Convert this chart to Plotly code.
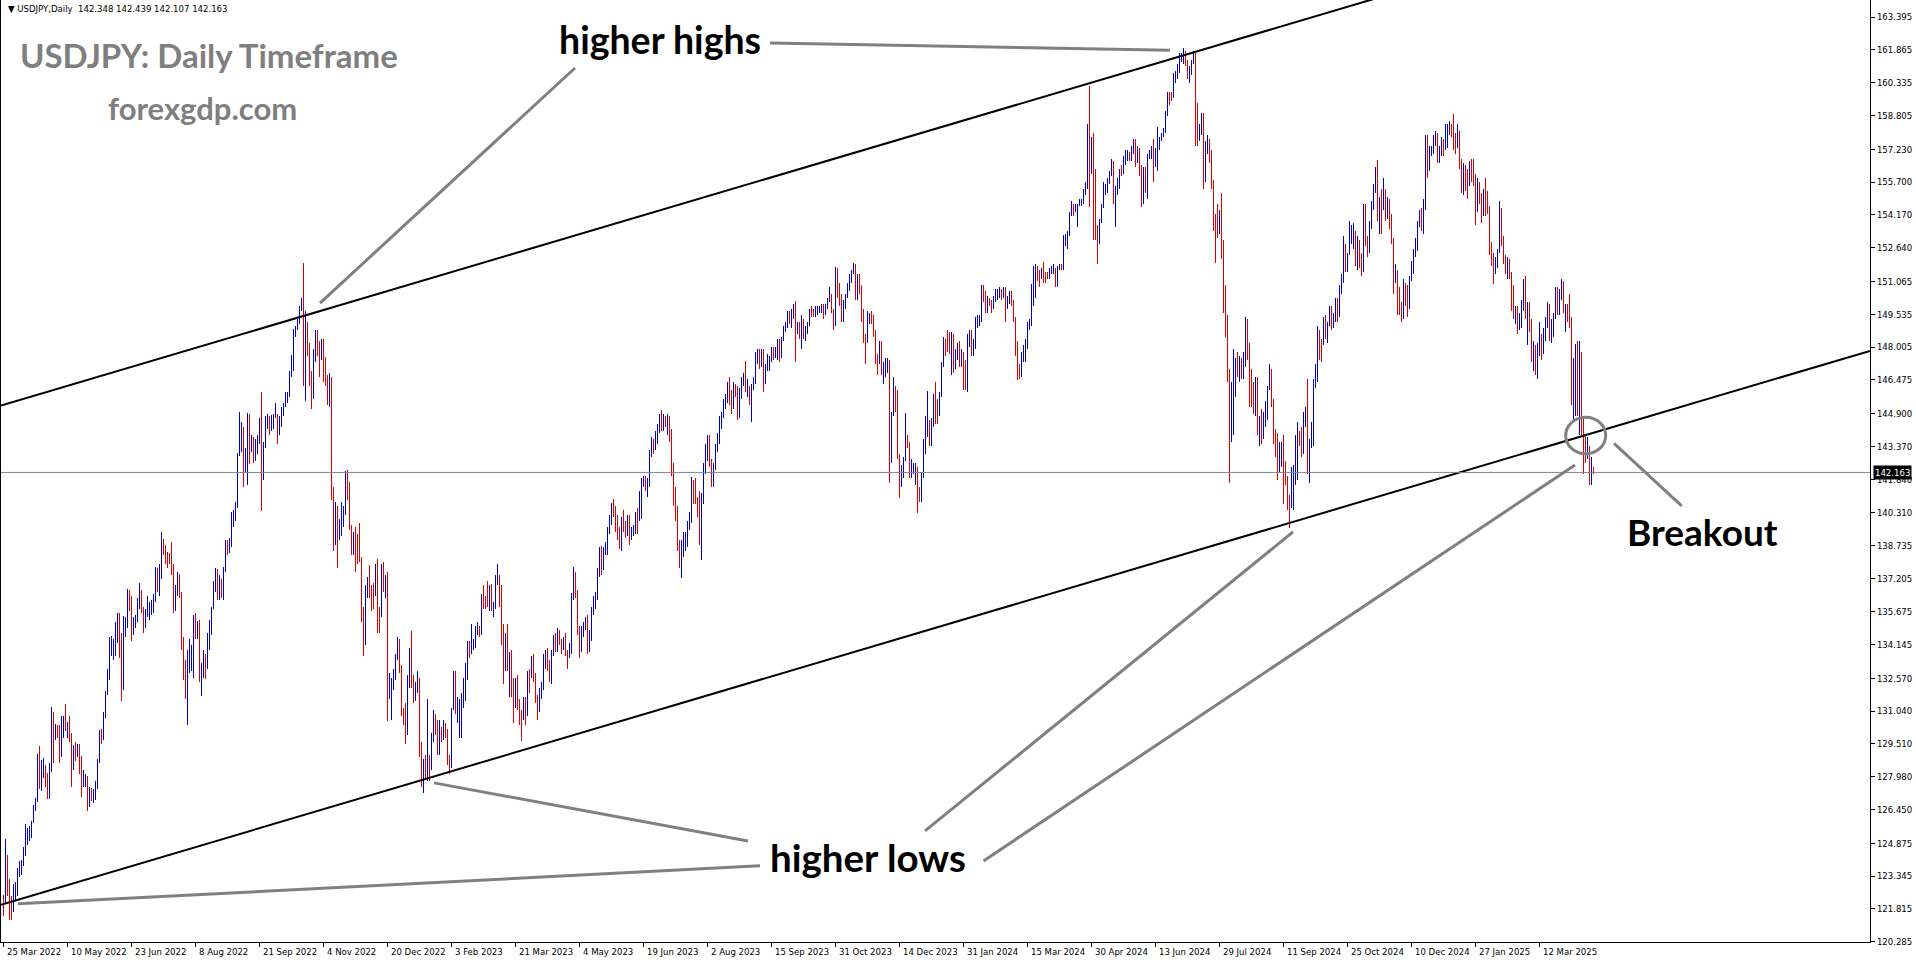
import plotly.graph_objects as go

# ---------------- USDJPY daily bars: (high, low, close); open = previous close
first_open = 122.30

m2022_03 = [(122.44,121.48,122.05),(125.09,122.12,123.85),(124.31,122.40,122.85),(123.20,121.30,121.80),(122.41,121.28,121.70)]
m2022_04 = [(122.99,121.66,122.54),(123.05,122.20,122.80),(123.70,122.40,123.60),(124.05,123.30,123.78),(124.10,123.40,123.95),
            (124.70,123.80,124.33),(125.77,124.30,125.38),(125.60,124.80,125.40),(125.70,125.00,125.56),(125.90,125.10,125.88),
            (126.68,125.80,126.42),(127.00,126.40,126.90),(129.03,126.80,128.90),(129.40,127.40,127.87),(128.75,127.30,128.40),
            (128.85,127.90,128.50),(128.50,127.50,128.10),(128.15,126.95,127.20),(128.60,126.95,128.40),(131.25,128.20,130.80),
            (131.00,128.60,129.70)]
m2022_05 = [(130.45,129.70,130.15),(130.40,129.80,130.13),(130.37,128.62,129.08),(130.80,128.90,130.22),(130.80,129.80,130.55),
            (131.35,130.10,130.27),(130.55,129.80,130.43),(130.80,129.60,129.94),(130.00,127.52,128.33),(129.45,128.30,129.20),
            (129.60,128.70,129.17),(129.50,128.90,129.40),(129.50,128.10,128.30),(128.95,127.03,127.80),(128.30,127.50,127.87),
            (128.10,127.50,127.90),(128.00,126.36,126.86),(127.50,126.55,127.32),(127.45,126.85,127.11),(127.40,126.75,127.12),
            (127.80,126.90,127.60),(128.80,127.40,128.68)]
m2022_06 = [(130.15,128.60,129.90),(130.20,129.50,129.85),(131.00,129.70,130.88),(131.95,130.70,131.88),(132.99,131.80,132.60),
            (134.48,132.50,134.25),(134.56,133.60,134.37),(134.40,133.40,134.40),(135.20,133.60,134.40),(135.59,134.20,135.45),
            (135.60,133.50,134.20),(134.70,131.50,132.20),(135.45,132.00,134.95),(135.40,134.50,135.05),(136.71,134.90,136.60),
            (136.70,135.70,136.20),(136.40,134.30,134.90),(135.40,134.60,135.20),(135.50,134.90,135.40),(136.30,135.20,136.10),
            (137.00,135.80,136.60),(136.70,135.60,135.70)]
m2022_07 = [(135.90,134.70,135.20),(135.80,134.90,135.70),(136.40,135.40,135.90),(136.10,135.30,135.90),(136.20,135.50,135.95),
            (136.50,135.60,136.10),(137.75,136.20,137.40),(137.70,136.60,137.00),(137.90,136.40,137.40),(139.38,137.20,138.90),
            (139.05,138.30,138.55),(138.80,137.90,138.20),(138.45,137.70,138.20),(138.40,137.90,138.20),(138.90,137.40,137.40),
            (137.90,135.60,136.10),(136.90,135.70,136.70),(137.50,136.40,137.00),(137.45,136.30,136.60),(136.60,133.90,134.30),
            (134.50,132.50,133.30)]
m2022_08 = [(133.40,131.60,131.60),(133.90,130.40,133.15),(134.40,132.80,133.80),(134.10,132.90,133.90),(135.50,132.60,135.00),
            (135.60,134.40,134.90),(135.25,134.40,135.10),(135.30,132.40,132.90),(133.30,131.73,133.00),(133.90,132.60,133.45),
            (133.70,132.55,133.30),(134.70,133.00,134.20),(135.30,133.90,135.00),(135.90,134.60,135.90),(137.10,135.80,137.00),
            (137.70,136.60,137.50),(137.65,136.20,136.80),(137.40,136.20,137.10),(137.20,136.30,136.60),(137.75,136.20,137.50),
            (139.00,137.70,138.80),(139.00,138.30,138.70),(139.10,138.40,138.90)]
m2022_09 = [(140.30,138.70,140.20),(140.40,139.60,140.20),(140.80,139.90,140.50),(143.08,140.50,142.95),(144.99,143.00,144.00),
            (144.50,143.10,144.10),(144.30,141.50,142.60),(143.30,142.20,142.80),(144.95,141.60,144.60),(144.90,142.55,143.20),
            (143.90,143.10,143.50),(143.80,142.60,142.90),(143.70,142.70,143.20),(143.90,143.00,143.70),(144.70,143.50,144.10),
            (145.90,140.35,142.40),(143.60,141.80,143.40),(144.80,143.30,144.70),(144.90,144.20,144.80),(144.80,143.90,144.20),
            (144.85,144.10,144.50),(144.90,144.20,144.70)]
m2022_10 = [(145.40,144.70,144.80),(144.90,143.50,144.10),(144.80,143.90,144.60),(145.20,144.30,145.10),(145.40,144.80,145.30),
            (145.90,145.20,145.70),(145.90,145.40,145.80),(146.90,145.70,146.90),(147.65,146.60,147.20),(148.85,146.90,148.70),
            (149.00,148.50,148.90),(149.30,148.80,149.20),(149.90,149.10,149.90),(150.30,149.70,150.20),(151.94,146.20,147.60),
            (149.70,145.50,149.00),(149.20,147.60,148.00),(148.20,146.20,146.40),(146.90,145.10,146.30),(147.90,145.60,147.50),
            (148.80,147.30,148.70)]
m2022_11 = [(148.80,147.60,148.20),(148.30,146.60,147.90),(148.40,147.40,148.20),(148.40,146.40,146.60),(147.55,146.20,146.60),
            (146.70,145.30,145.60),(146.80,145.20,146.40),(146.60,140.90,141.00),(141.50,138.50,138.80),(140.80,138.80,139.90),
            (140.60,137.70,139.30),(140.00,139.00,139.50),(140.80,139.20,140.20),(140.60,139.60,140.40),(142.25,140.20,142.10),
            (142.30,140.90,141.20),(141.70,139.50,139.60),(139.70,138.30,138.60),(139.40,138.30,139.20),(139.60,137.50,138.90),
            (139.30,137.90,138.70),(139.80,138.00,138.10)]
m2022_12 = [(138.20,135.20,135.30),(135.90,133.62,134.30),(136.90,134.10,136.70),(137.30,136.30,137.00),(137.85,136.30,136.60),
            (136.90,135.70,136.60),(137.00,135.80,136.60),(137.90,136.40,137.70),(138.15,134.70,135.60),(135.90,134.70,135.50),
            (137.90,135.40,137.80),(138.00,136.60,136.70),(137.40,136.30,136.90),(137.50,130.58,131.70),(132.80,131.60,132.40),
            (132.60,130.60,132.40),(133.00,132.00,132.80),(133.70,132.50,133.50),(134.50,133.40,134.40),(134.40,132.80,133.00),
            (133.20,130.80,131.10)]
m2023_01 = [(131.20,130.40,130.90),(131.40,129.52,130.00),(132.70,129.90,132.40),(134.00,132.10,133.40),(134.78,132.10,132.10),
            (132.70,131.40,131.90),(132.40,131.50,132.30),(132.90,131.90,132.40),(132.60,128.90,129.20),(129.60,127.50,127.90),
            (128.80,127.22,128.50),(129.00,127.90,128.10),(131.58,127.80,128.90),(129.00,127.80,128.40),(130.00,128.30,129.60),
            (131.10,129.60,130.70),(130.90,129.90,130.10),(130.60,129.00,129.20),(130.60,129.00,130.20),(130.30,129.60,129.90),
            (130.60,129.70,130.40),(130.50,129.80,130.10)]
m2023_02 = [(130.20,128.50,128.90),(129.00,128.08,128.70),(131.20,128.40,131.20),(132.90,131.10,132.60),(132.90,130.90,131.10),
            (131.70,130.50,131.40),(131.60,129.80,131.40),(131.90,129.80,131.40),(132.60,131.20,132.40),(133.30,131.50,133.20),
            (134.30,132.50,134.10),(134.30,133.50,133.90),(135.10,133.70,134.20),(134.40,133.90,134.20),(135.00,134.00,134.90),
            (135.20,134.60,134.90),(135.00,134.50,134.70),(136.50,134.60,136.40),(136.90,135.80,136.20),(136.40,135.80,136.20)]
m2023_03 = [(137.10,135.90,136.10),(136.90,135.70,136.70),(136.95,135.70,135.80),(136.10,135.40,135.90),(137.40,135.80,137.20),
            (137.91,136.90,137.30),(137.40,135.90,136.10),(136.90,134.10,134.90),(135.10,132.30,133.20),(134.70,132.90,134.20),
            (135.10,132.90,133.40),(133.80,131.70,133.70),(133.90,131.70,131.80),(132.60,130.50,131.30),(132.60,131.20,132.50),
            (132.70,131.10,131.50),(131.60,130.40,130.80),(131.10,129.64,130.70),(131.70,130.60,131.50),(131.70,130.40,130.90),
            (132.90,130.80,132.80),(133.00,131.90,132.70),(133.60,132.60,132.80)]
m2023_04 = [(133.70,132.40,132.40),(132.80,131.40,131.70),(131.80,130.60,131.30),(132.10,131.00,131.80),(132.40,131.60,132.20),
            (133.70,132.00,133.60),(133.90,133.00,133.70),(134.00,132.90,133.00),(133.40,132.40,132.60),(133.90,132.30,133.80),
            (134.60,133.60,134.50),(134.70,133.80,134.10),(134.90,133.80,134.70),(134.80,134.10,134.30),(134.40,133.70,134.10),
            (134.50,133.90,134.30),(134.70,133.60,133.70),(133.90,133.00,133.60),(134.20,133.50,133.90),(136.56,133.70,136.30)]
m2023_05 = [(137.77,136.20,137.50),(137.50,136.30,136.50),(136.70,134.70,134.60),(135.00,133.50,134.20),(135.00,133.80,134.80),
            (135.20,134.50,135.10),(135.40,134.80,135.20),(135.50,133.70,134.30),(134.80,133.80,134.50),(135.90,134.30,135.70),
            (136.40,135.50,136.10),(136.60,135.80,136.40),(137.70,136.20,137.60),(138.70,137.30,138.70),(138.75,137.40,137.90),
            (138.70,137.60,138.60),(138.90,138.30,138.60),(139.60,138.30,139.50),(140.20,139.30,140.00),(140.73,139.70,140.60),
            (140.93,140.10,140.40),(140.60,139.40,139.80),(140.20,139.00,139.30)]
m2023_06 = [(139.60,138.60,138.80),(140.10,138.50,140.00),(140.40,139.40,139.60),(139.90,139.10,139.60),(140.20,139.20,140.10),
            (140.20,138.80,139.30),(139.60,139.00,139.40),(139.70,139.20,139.60),(140.30,139.30,140.20),(140.50,139.30,140.00),
            (141.30,139.90,140.30),(141.90,140.00,141.80),(142.00,141.50,141.90),(142.00,141.30,141.40),(141.90,141.00,141.80),
            (143.20,141.50,143.10),(143.80,142.90,143.70),(143.70,143.00,143.50),(144.10,143.20,143.60),(144.40,143.50,144.30),
            (144.90,144.00,144.70),(145.07,144.10,144.30)]
m2023_07 = [(144.90,144.10,144.70),(144.80,144.30,144.50),(144.90,143.90,144.70),(144.80,143.60,144.10),(144.20,142.00,142.10),
            (142.60,140.60,141.30),(141.50,139.90,140.30),(140.60,138.50,138.50),(139.00,137.70,138.10),(139.00,137.24,138.80),
            (139.40,138.20,138.80),(139.40,138.50,139.30),(139.90,138.70,139.70),(140.30,139.50,140.10),(141.95,139.80,141.80),
            (141.70,140.70,141.50),(141.90,140.70,140.90),(141.00,140.10,140.30),(141.30,138.80,139.40),(141.20,138.07,141.20),
            (142.60,140.70,142.30)]
m2023_08 = [(143.50,142.10,143.30),(143.90,142.70,143.30),(143.90,142.40,142.60),(142.80,141.50,141.80),(142.60,141.50,142.50),
            (143.50,142.30,143.40),(144.00,143.10,143.80),(144.80,143.50,144.70),(145.00,144.20,144.90),(145.60,144.70,145.60),
            (145.80,145.10,145.60),(146.40,145.40,146.40),(146.60,145.30,145.80),(146.00,144.90,145.40),(146.40,145.10,146.20),
            (146.30,145.70,145.90),(146.20,144.60,144.80),(146.10,144.70,145.80),(146.60,145.60,146.40),(146.80,146.20,146.50),
            (147.37,145.90,145.90),(146.50,145.70,146.20),(146.20,145.30,145.50)]
m2023_09 = [(146.30,144.50,146.20),(146.60,146.00,146.50),(147.80,146.30,147.70),(147.90,147.20,147.70),(147.90,147.00,147.30),
            (147.90,147.10,147.80),(147.90,145.90,146.60),(147.20,146.30,147.10),(147.70,146.90,147.40),(147.60,146.90,147.40),
            (148.00,147.30,147.90),(148.00,147.40,147.60),(148.00,147.50,147.80),(148.40,147.40,148.30),(148.40,147.30,147.60),
            (148.50,147.50,148.40),(149.00,148.30,148.90),(149.20,148.70,149.10),(149.70,148.90,149.60),(149.70,149.10,149.30),
            (149.80,148.90,149.40)]
m2023_10 = [(150.00,149.30,149.90),(150.16,147.30,149.00),(149.20,148.60,149.10),(149.20,148.40,148.50),(149.50,147.90,149.30),
            (149.30,148.40,148.50),(149.00,148.30,148.70),(149.20,148.60,149.10),(149.80,149.00,149.80),(149.90,149.40,149.60),
            (149.80,149.40,149.50),(149.90,149.40,149.80),(149.90,149.50,149.80),(149.90,149.60,149.80),(150.00,149.60,149.90),
            (150.00,149.30,149.70),(150.00,149.50,149.90),(150.30,149.80,150.20),(150.80,150.10,150.40),(150.50,149.60,149.60),
            (149.80,148.80,149.10),(151.72,149.00,151.70)]
m2023_11 = [(151.70,150.30,150.90),(151.00,149.90,150.40),(150.50,149.20,149.40),(150.20,149.20,150.00),(150.50,149.80,150.40),
            (151.00,150.30,150.90),(151.40,150.60,151.30),(151.60,151.00,151.50),(151.91,151.40,151.70),(151.90,150.20,150.40),
            (151.40,150.20,151.40),(151.40,150.50,150.70),(150.90,149.20,149.60),(149.80,148.20,148.40),(148.60,147.20,148.40),
            (149.70,148.20,149.50),(149.60,149.10,149.60),(149.70,149.10,149.40),(149.50,148.50,148.70),(148.80,147.20,147.40),
            (147.70,146.70,147.30),(148.30,147.20,148.20)]
m2023_12 = [(148.30,146.70,146.80),(147.30,146.30,146.90),(147.50,146.60,147.20),(147.50,146.80,147.30),(147.40,141.65,144.20),
            (145.00,142.60,144.90),(146.60,144.80,146.20),(146.20,145.00,145.40),(146.00,142.80,142.90),(143.00,140.97,141.90),
            (142.50,141.50,142.20),(142.90,141.90,142.80),(144.95,142.70,143.80),(143.90,143.30,143.50),(143.60,141.90,142.10),
            (142.80,141.90,142.40),(142.60,142.10,142.40),(142.60,141.60,142.40),(142.40,140.25,141.40),(141.50,140.80,141.00)]
m2024_01 = [(142.20,140.80,142.00),(143.70,141.90,143.30),(144.80,143.00,144.60),(145.98,143.80,144.60),(144.60,143.40,144.20),
            (144.70,143.40,144.40),(145.80,144.30,145.70),(146.40,144.40,145.30),(145.60,144.40,144.90),(145.90,144.80,145.80),
            (147.30,145.70,147.20),(148.50,147.10,148.20),(148.40,147.60,148.10),(148.80,147.80,148.10),(148.70,147.70,148.10),
            (148.70,146.70,148.40),(148.60,146.80,147.40),(147.90,147.00,147.70),(148.20,147.40,148.20),(148.30,147.10,147.50),
            (147.90,147.10,147.60),(147.80,146.00,146.90)]
m2024_02 = [(147.40,146.00,146.40),(148.60,145.90,148.40),(148.80,148.00,148.70),(148.80,147.60,147.90),(148.40,147.60,148.00),
            (149.40,147.90,149.30),(149.50,148.90,149.30),(149.50,149.00,149.40),(150.90,149.20,150.70),(150.90,150.10,150.60),
            (150.60,149.60,149.90),(150.40,149.60,150.20),(150.30,149.90,150.10),(150.20,149.60,150.00),(150.40,149.80,150.30),
            (150.70,150.10,150.50),(150.70,150.20,150.50),(150.80,150.30,150.70),(150.70,150.20,150.50),(150.80,150.30,150.70),
            (150.80,149.20,150.00)]
m2024_03 = [(150.40,149.80,150.10),(150.60,150.00,150.50),(150.60,149.90,150.00),(150.20,149.20,149.40),(149.40,147.60,148.00),
            (148.30,146.48,147.10),(147.20,146.50,147.00),(147.80,146.60,147.70),(148.10,147.30,147.70),(148.40,147.30,148.30),
            (149.20,147.90,149.00),(149.30,148.80,149.10),(150.95,149.00,150.90),(151.80,149.90,151.30),(151.86,150.30,151.60),
            (151.80,151.10,151.40),(151.60,150.80,151.30),(151.70,151.20,151.50),(151.97,151.00,151.30),(151.50,151.00,151.30),
            (151.50,151.20,151.30)]
m2024_04 = [(151.70,151.20,151.60),(151.80,151.40,151.60),(151.90,151.40,151.60),(151.70,150.80,151.30),(151.80,150.80,151.60),
            (151.90,151.60,151.80),(151.90,151.60,151.70),(153.25,151.60,153.10),(153.30,152.70,153.20),(153.40,152.60,153.20),
            (154.30,153.20,154.20),(154.80,154.10,154.70),(154.70,154.10,154.40),(154.70,154.30,154.60),(154.70,153.60,154.60),
            (154.90,154.60,154.80),(154.90,154.60,154.80),(155.40,154.70,155.30),(155.70,155.10,155.60),(158.40,155.40,158.30),
            (160.20,154.55,156.60),(157.80,156.10,157.80)]
m2024_05 = [(157.99,153.00,155.00),(156.30,153.00,153.00),(153.70,151.86,153.00),(154.00,152.80,153.90),(154.70,153.80,154.60),
            (155.70,154.50,155.50),(155.60,155.10,155.50),(155.90,155.20,155.80),(156.20,155.60,156.20),(156.80,156.00,156.40),
            (156.70,154.70,154.90),(155.50,153.60,155.40),(155.90,155.10,155.60),(156.30,155.40,156.30),(156.50,156.00,156.20),
            (156.90,156.10,156.80),(157.20,156.50,157.00),(157.20,156.70,157.00),(157.10,156.70,156.90),(157.40,156.70,157.20),
            (157.70,157.00,157.60),(157.70,156.40,156.80),(157.40,156.60,157.30)]
m2024_06 = [(157.30,156.00,156.10),(156.50,154.55,154.80),(156.40,154.70,156.10),(156.40,155.20,155.60),(157.00,154.90,156.80),
            (157.20,156.80,157.00),(157.40,156.80,157.10),(157.70,155.70,156.70),(157.30,156.40,157.00),(158.26,156.20,157.40),
            (157.80,157.20,157.70),(158.00,157.60,157.90),(158.20,157.80,158.10),(159.00,158.00,158.90),(159.90,158.80,159.80),
            (159.90,159.30,159.70),(159.90,159.50,159.70),(160.80,159.60,160.80),(160.90,160.30,160.80),(161.20,160.50,160.90)]
m2024_07 = [(161.70,160.80,161.50),(161.70,161.30,161.50),(161.95,161.20,161.70),(161.80,161.10,161.30),(161.40,160.50,160.70),
            (161.10,160.30,160.80),(161.40,160.70,161.30),(161.80,161.20,161.60),(161.70,157.40,159.00),(159.40,157.40,157.90),
            (158.40,157.60,158.00),(158.90,157.90,158.40),(158.90,155.40,156.20),(157.60,155.70,157.40),(157.90,157.00,157.50),
            (157.70,156.60,156.90),(157.20,155.40,155.60),(155.80,153.40,153.90),(154.20,151.94,153.90),(154.70,153.10,153.80),
            (154.40,153.30,154.00),(155.20,152.10,152.70),(153.00,149.60,150.00)]
m2024_08 = [(150.90,148.50,149.40),(149.50,146.40,146.50),(147.00,141.68,144.20),(146.40,143.60,144.30),(147.90,143.90,146.70),
            (147.50,145.70,147.20),(147.80,146.60,146.60),(147.60,146.40,147.20),(147.50,146.50,146.90),(147.80,146.50,147.30),
            (149.40,147.10,149.30),(149.10,147.40,147.60),(148.20,145.20,146.00),(147.00,145.20,145.20),(146.40,144.90,145.20),
            (146.60,144.80,146.30),(146.60,143.90,144.40),(144.80,143.40,144.50),(145.10,143.50,143.90),(145.00,143.70,144.60),
            (145.50,144.30,145.00),(146.20,144.60,146.20)]
m2024_09 = [(147.20,146.00,146.90),(147.00,145.20,145.40),(145.60,143.50,143.70),(144.20,142.90,143.40),(144.00,141.80,142.30),
            (143.60,142.20,143.10),(143.60,142.40,143.50),(143.90,140.70,142.40),(142.70,141.60,141.80),(142.00,140.40,140.80),
            (141.10,139.58,140.60),(142.40,140.50,142.30),(142.50,140.40,142.30),(143.90,141.60,142.60),(144.50,141.80,143.90),
            (144.10,143.40,143.60),(144.30,142.90,143.20),(145.00,143.00,144.80),(145.20,144.30,144.80),(146.50,142.10,142.20),
            (143.70,141.65,143.60)]
m2024_10 = [(144.50,143.30,143.60),(146.50,143.40,146.40),(147.20,146.10,146.90),(149.00,146.40,148.70),(148.80,147.40,148.20),
            (148.40,147.30,148.20),(149.40,148.10,149.30),(149.50,148.40,148.60),(149.20,148.20,149.10),(149.90,149.00,149.80),
            (149.90,148.80,149.20),(149.60,148.90,149.30),(150.30,149.20,150.10),(150.30,149.20,149.50),(150.90,149.40,150.80),
            (151.40,150.50,151.10),(153.19,151.00,152.70),(152.80,151.50,151.80),(152.40,151.50,152.30),(153.88,152.60,153.30),
            (153.70,152.80,153.40),(153.80,152.60,153.40),(153.40,151.80,152.00)]
m2024_11 = [(153.20,151.60,153.00),(152.70,151.70,152.10),(152.40,151.30,151.60),(154.70,151.50,154.60),(154.70,152.70,152.90),
            (153.20,152.20,152.60),(153.90,152.40,153.70),(154.80,153.50,154.60),(155.60,154.40,155.50),(156.40,155.20,156.20),
            (156.75,153.90,154.30),(155.00,153.30,154.70),(155.40,153.30,154.60),(155.90,154.40,155.40),(155.40,153.90,154.50),
            (155.00,154.00,154.70),(154.90,153.50,154.20),(154.20,152.80,153.00),(153.10,150.50,151.10),(151.90,151.00,151.60),
            (151.60,149.50,149.70)]
m2024_12 = [(150.80,149.50,149.60),(150.10,149.20,149.60),(151.20,149.30,150.60),(151.00,149.90,150.10),(150.90,149.40,150.00),
            (151.30,149.80,151.20),(152.00,151.10,151.90),(152.60,151.40,152.50),(153.10,152.20,152.60),(153.90,152.50,153.70),
            (154.40,153.60,154.20),(154.50,153.40,153.50),(154.90,153.30,154.70),(157.90,154.40,157.40),(157.90,155.90,156.40),
            (157.40,156.20,157.10),(157.40,156.90,157.20),(157.90,157.00,157.80),(158.10,157.40,157.90),(158.00,156.60,156.90),
            (157.40,156.60,157.20)]
m2025_01 = [(157.80,156.90,157.50),(157.70,156.90,157.30),(158.40,157.20,157.60),(158.40,157.30,158.00),(158.55,157.90,158.30),
            (158.40,157.80,158.10),(158.87,157.20,157.70),(158.00,157.00,157.50),(158.40,157.30,158.00),(158.10,156.30,156.50),
            (156.80,155.20,155.30),(156.60,155.10,156.30),(156.50,155.30,155.60),(156.30,154.90,155.60),(156.70,155.50,156.60),
            (156.80,155.70,156.00),(156.80,155.50,156.00),(156.10,153.70,154.50),(155.90,154.30,155.50),(155.70,154.70,155.20),
            (155.20,153.80,154.30),(155.40,154.10,155.20)]
m2025_02 = [(155.90,154.10,154.60),(155.30,154.20,154.40),(154.60,152.30,152.60),(152.90,151.80,152.00),(152.40,150.95,151.40),
            (152.20,151.40,152.00),(152.60,151.70,152.50),(154.80,152.40,154.40),(154.50,152.70,152.80),(153.20,151.90,152.30),
            (152.30,151.40,151.60),(152.20,151.20,152.00),(152.10,151.20,151.50),(151.50,149.70,150.00),(150.90,149.30,149.30),
            (149.90,149.10,149.70),(149.90,148.60,149.00),(149.60,148.80,149.10),(150.20,148.90,149.80),(151.20,149.70,150.60)]
m2025_03 = [(151.30,149.30,149.40),(150.10,148.10,149.80),(150.10,148.70,149.00),(149.30,147.30,147.90),(148.30,146.90,148.00),
            (148.10,146.70,147.30),(148.20,146.54,147.80),(149.20,147.60,148.30),(148.60,147.40,148.10),(148.90,147.70,148.60),
            (149.40,148.30,149.20),(150.10,148.90,149.30),(150.00,148.30,148.70),(149.30,148.20,148.80),(149.60,148.50,149.30),
            (150.80,149.30,150.70),(150.80,149.50,149.90),(150.70,149.50,150.60),(151.20,150.20,151.00),(151.10,149.60,149.80),
            (150.00,148.70,149.90)]
m2025_04 = [(150.00,149.20,149.60),(150.50,148.90,149.40),(149.35,145.30,146.10),(147.50,144.55,146.90),(148.15,144.80,147.80),
            (148.30,144.80,146.30),(148.30,143.90,147.70),(147.80,143.90,144.60),(144.70,142.10,143.50),(143.90,142.60,143.10),
            (143.80,142.80,143.20),(143.40,141.60,141.80),(142.90,141.60,142.348),(142.439,142.107,142.163)]

# bottom date labels (one every 32 bars) and right-hand price labels
date_labels = ["25 Mar 2022", "10 May 2022", "23 Jun 2022", "8 Aug 2022", "21 Sep 2022", "4 Nov 2022",
               "20 Dec 2022", "3 Feb 2023", "21 Mar 2023", "4 May 2023", "19 Jun 2023", "2 Aug 2023",
               "15 Sep 2023", "31 Oct 2023", "14 Dec 2023", "31 Jan 2024", "15 Mar 2024", "30 Apr 2024",
               "13 Jun 2024", "29 Jul 2024", "11 Sep 2024", "25 Oct 2024", "10 Dec 2024", "27 Jan 2025",
               "12 Mar 2025"]
bars_per_label = 32
price_labels = [163.395, 161.865, 160.335, 158.805, 157.230, 155.700, 154.170, 152.640, 151.065, 149.535,
                148.005, 146.475, 144.900, 143.370, 141.840, 140.310, 138.735, 137.205, 135.675, 134.145,
                132.570, 131.040, 129.510, 127.980, 126.450, 124.875, 123.345, 121.815, 120.285]

# channel trend lines: two anchor points each (bar index, price)
upper_channel_idx = [150, 590]
upper_channel_price = [149.46, 161.61]
lower_channel_idx = [0, 643]
lower_channel_price = [122.04, 139.81]

# ---------------- build bars
months = [m2022_03, m2022_04, m2022_05, m2022_06, m2022_07, m2022_08, m2022_09, m2022_10, m2022_11, m2022_12,
          m2023_01, m2023_02, m2023_03, m2023_04, m2023_05, m2023_06, m2023_07, m2023_08, m2023_09, m2023_10,
          m2023_11, m2023_12, m2024_01, m2024_02, m2024_03, m2024_04, m2024_05, m2024_06, m2024_07, m2024_08,
          m2024_09, m2024_10, m2024_11, m2024_12, m2025_01, m2025_02, m2025_03, m2025_04]
bars = [b for m in months for b in m]
closes = [b[2] for b in bars]
opens = [first_open] + closes[:-1]
highs = [max(b[0], o, c) for b, o, c in zip(bars, opens, closes)]
lows = [min(b[1], o, c) for b, o, c in zip(bars, opens, closes)]
idx = list(range(len(bars)))
last_price = closes[-1]

X0, X1 = -1.25, 933.25
Y0, Y1 = 120.27, 164.19

BLUE = "#0000C8"
RED = "#DC0000"
GRAY = "#808080"
AXFONT = "DejaVu Sans Condensed, Liberation Sans Narrow, sans-serif"
BIGFONT = "Lato, Open Sans, sans-serif"

fig = go.Figure()
fig.add_trace(go.Ohlc(
    x=idx, open=opens, high=highs, low=lows, close=closes,
    increasing=dict(line=dict(color=BLUE, width=1)),
    decreasing=dict(line=dict(color=RED, width=1)),
    tickwidth=0, hoverinfo="skip", showlegend=False))


def line_through(ix, pr, xa, xb):
    s = (pr[1] - pr[0]) / (ix[1] - ix[0])
    return [xa, xb], [pr[0] + s * (xa - ix[0]), pr[0] + s * (xb - ix[0])]


for ix, pr in ((upper_channel_idx, upper_channel_price), (lower_channel_idx, lower_channel_price)):
    lx, ly = line_through(ix, pr, X0, X1)
    fig.add_trace(go.Scatter(x=lx, y=ly, mode="lines", line=dict(color="black", width=2),
                             hoverinfo="skip", showlegend=False))

shapes = []
# current price line
shapes.append(dict(type="line", xref="paper", x0=0, x1=1, yref="y", y0=last_price, y1=last_price,
                   line=dict(color="#778899", width=1)))
# gray pointer lines (bar index, price)
pointers = [
    ((383.25, 162.19), (583.25, 161.85)),
    ((285.75, 161.02), (158.25, 150.06)),
    ((378.25, 123.82), (7.25, 122.05)),
    ((372.25, 124.98), (215.25, 127.69)),
    ((460.75, 125.45), (644.75, 139.39)),
    ((490.0, 124.05), (785.75, 142.51)),
    ((805.25, 143.52), (839.1, 140.60)),
]
for (xa, ya), (xb, yb) in pointers:
    shapes.append(dict(type="line", xref="x", yref="y", x0=xa, y0=ya, x1=xb, y1=yb,
                       line=dict(color=GRAY, width=3)))
shapes.append(dict(type="circle", xref="x", yref="y", x0=781.1, x1=801.1, y0=143.03, y1=144.74,
                   line=dict(color=GRAY, width=3)))

annotations = []
for k, lab in enumerate(date_labels):
    annotations.append(dict(x=k * bars_per_label, xref="x", xanchor="left", xshift=1,
                            y=0, yref="paper", yanchor="top", yshift=-2,
                            text=lab, showarrow=False, font=dict(family=AXFONT, size=9.5, color="black")))
annotations.append(dict(x=1, xref="paper", xanchor="left", xshift=3, y=last_price, yref="y", yanchor="middle",
                        text=f"{last_price:.3f}", showarrow=False, bgcolor="black", borderpad=1,
                        font=dict(family=AXFONT, size=9.5, color="white")))
annotations.append(dict(x=5 / 1869, xref="paper", xanchor="left", y=1 - 9 / 942, yref="paper", yanchor="middle",
                        text="\u25BC USDJPY,Daily  142.348 142.439 142.107 142.163", showarrow=False,
                        font=dict(family=AXFONT, size=9.5, color="black")))
annotations.append(dict(x=7.25, xref="x", xanchor="left", y=161.64, yref="y", yanchor="middle",
                        text="USDJPY: Daily Timeframe", showarrow=False,
                        font=dict(family=BIGFONT, size=33, color="#7F7F7F", weight="bold")))
annotations.append(dict(x=99.25, xref="x", xanchor="center", y=159.14, yref="y", yanchor="middle",
                        text="forexgdp.com", showarrow=False,
                        font=dict(family=BIGFONT, size=31, color="#7F7F7F", weight="bold")))
annotations.append(dict(x=328.25, xref="x", xanchor="center", y=162.34, yref="y", yanchor="middle",
                        text="higher highs", showarrow=False,
                        font=dict(family=BIGFONT, size=37.5, color="black", weight="bold")))
annotations.append(dict(x=432.25, xref="x", xanchor="center", y=124.22, yref="y", yanchor="middle",
                        text="higher lows", showarrow=False,
                        font=dict(family=BIGFONT, size=38.5, color="black", weight="bold")))
annotations.append(dict(x=849.5, xref="x", xanchor="center", y=139.39, yref="y", yanchor="middle",
                        text="Breakout", showarrow=False,
                        font=dict(family=BIGFONT, size=37, color="black", weight="bold")))

fig.update_layout(
    width=1916, height=964,
    margin=dict(l=1, r=46, t=0, b=22, pad=0),
    paper_bgcolor="white", plot_bgcolor="white",
    shapes=shapes, annotations=annotations,
    showlegend=False,
    xaxis=dict(range=[X0, X1], showgrid=False, zeroline=False, showline=True, linecolor="black", linewidth=1,
               ticks="outside", ticklen=4, tickcolor="black",
               tickvals=[k * bars_per_label for k in range(len(date_labels))],
               showticklabels=False, rangeslider=dict(visible=False), automargin=False, fixedrange=True),
    yaxis=dict(range=[Y0, Y1], side="right", showgrid=False, zeroline=False, showline=True, mirror=True,
               linecolor="black", linewidth=1, ticks="outside", ticklen=4, tickcolor="black",
               tickvals=price_labels, ticktext=[f"{p:.3f}" for p in price_labels],
               tickfont=dict(family=AXFONT, size=9.5, color="black"), automargin=False, fixedrange=True),
)

# crisp (non anti-aliased) price bars, as the terminal draws them: a stylesheet rule survives any re-render
crisp_js = ("var s=document.createElement('style');"
            "s.textContent='g.trace.ohlc path, .ohlclayer path, g.ohlc path {shape-rendering:crispEdges !important;}';"
            "document.head.appendChild(s);")
fig.write_html("out.html", post_script=crisp_js)
